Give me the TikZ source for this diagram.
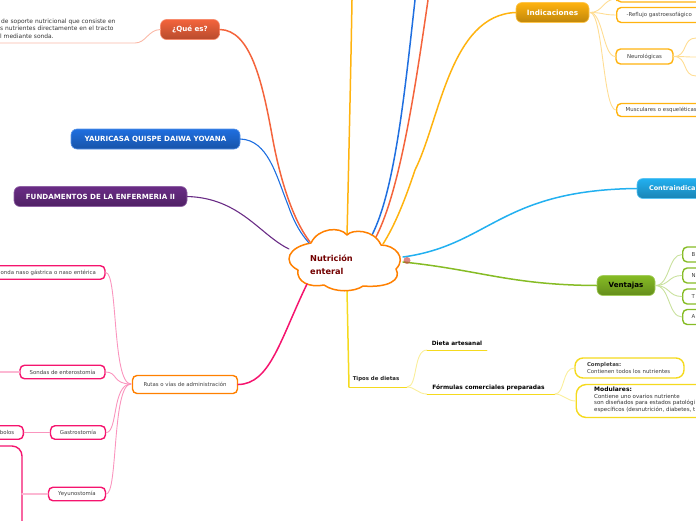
\documentclass[tikz,border=0pt]{standalone}
\usepackage{fontspec}
\setmainfont{DejaVu Sans}
\usetikzlibrary{positioning}
\definecolor{cOrange}{HTML}{FF8000}
\definecolor{cRed}{HTML}{F4643C}
\definecolor{cBlue}{HTML}{1F6FE0}
\definecolor{cPurple}{HTML}{6A2C86}
\definecolor{cPink}{HTML}{F5146E}
\definecolor{cGold}{HTML}{FFB30F}
\definecolor{cSky}{HTML}{22B0F0}
\definecolor{cGreen}{HTML}{86BC25}
\definecolor{cYellow}{HTML}{F5DA1E}
\tikzset{
  main/.style={rounded corners=6pt,minimum height=20pt,inner sep=0pt,font=\bfseries\fontsize{7.1}{8}\selectfont,text=white,draw=#1!75,line width=.6pt,top color=#1,bottom color=#1!75!black},
  sub/.style={rounded corners=4.5pt,draw=#1,line width=1.4pt,fill=white,minimum height=13.5pt,inner sep=0pt,text=black!75,font=\fontsize{5.4}{6.4}\selectfont},
  branch/.style={line width=1.5pt,draw=#1},
  twig/.style={line width=.9pt,draw=#1!45},
  line join=round,line cap=round
}
\begin{document}
\begin{tikzpicture}[x=1pt,y=-1pt,line join=round,line cap=round]
\useasboundingbox (0,0) rectangle (696,520);
% free ends
\coordinate (topa) at (352,0);
\coordinate (topb) at (415,0);
\coordinate (topc) at (428,0);
% branches
\draw[branch=cGold] (347,236) .. controls (349,150) and (351,60) .. (topa);
\draw[branch=cBlue] (372,235) .. controls (395,190) and (405,90) .. (topb);
\draw[branch=cRed] (376,237) .. controls (400,190) and (415,90) .. (topc);
\draw[branch=cYellow] (347,290) -- (349,387);
% nodes
\node[main=cRed,minimum width=59pt] (quees) at (190,29.5) {¿Qué es?};
\node[main=cBlue,minimum width=169pt] (autor) at (155.5,139) {YAURICASA QUISPE DAIWA YOVANA};
\node[main=cPurple,minimum width=173pt] (curso) at (100.5,196.5) {FUNDAMENTOS DE LA ENFERMERIA II};
\node[main=cGold,minimum width=73pt,font=\bfseries\fontsize{7.3}{8}\selectfont] (indica) at (552.5,12.5) {Indicaciones};
\node[main=cSky,text width=110pt,align=left,font=\bfseries\fontsize{6.5}{8}\selectfont] (contra) at (692,188.5) {\hspace*{12pt}Contraindica};
\node[main=cGreen,minimum width=58pt,text=black] (venta) at (626,285.5) {Ventajas};
\node[sub=cOrange,minimum width=105pt,minimum height=18pt] (rutas) at (185,384.5) {Rutas o vías de administración};
\node[sub=cPink,text width=170pt,align=right] (naso) at (20,272.5) {onda naso gástrica o naso entérica\hspace*{9pt}};
\node[sub=cPink,minimum width=85pt] (entero) at (62.5,372) {Sondas de enterostomía};
\node[sub=cPink,minimum width=55pt] (gastro) at (78,432.5) {Gastrostomía};
\node[sub=cPink,minimum width=57pt] (yeyuno) at (77,494) {Yeyunostomía};
\node[sub=cPink,text width=60pt,align=right,anchor=east] (bolos) at (24,432.5) {bolos\hspace*{9pt}};
\draw[cPink,line width=1.4pt,rounded corners=10pt] (-5,446) -- (22,446) -- (22,525);
\node[sub=cGold,text width=86pt,align=left,minimum height=15pt,anchor=west] (reflujo) at (616,15) {\hspace*{10pt}-Reflujo gastroesofágico};
\node[sub=cGold,minimum width=57pt,minimum height=15pt] (neuro) at (644.5,56.5) {Neurológicas};
\node[sub=cGold,text width=86pt,align=left,minimum height=13pt,anchor=west] (muscu) at (616,110) {\hspace*{9pt}Musculares o esqueléticas};
\node[sub=cGold,minimum width=86pt,minimum height=6pt,anchor=west] (alto) at (616,-1) {};
\foreach \n/\y/\t in {ba/254.5/B,ne/275.5/N,to/296.5/T,ap/317/A}
  \node[sub=cGreen,text width=30pt,align=left,minimum height=15pt,anchor=west] (\n) at (682,\y) {\hspace*{9pt}\t};
\node[font=\bfseries\fontsize{5.4}{6}\selectfont,text=black!85] (tipos) at (376,379) {Tipos de dietas};
\node[font=\bfseries\fontsize{5.8}{7}\selectfont,text=black] (artesanal) at (457,343.5) {Dieta artesanal};
\node[font=\bfseries\fontsize{5.9}{7}\selectfont,text=black] (formulas) at (488.5,387.5) {Fórmulas comerciales preparadas};
\node[sub=cYellow,text width=85pt,inner xsep=12pt,minimum height=20pt,rounded corners=8pt,align=left] (completas) at (629.5,368) {\textbf{Completas:}\\Contienen todos los nutrientes};
\node[sub=cYellow,minimum width=130pt,minimum height=33pt,rounded corners=10pt,anchor=west] (modu) at (575.5,401) {};
\node[anchor=north west,inner sep=0pt,align=left,font=\fontsize{5.5}{6.6}\selectfont,text=black!80] (modutxt) at (594,387) {{\bfseries\fontsize{6}{7}\selectfont\textcolor{black}{Modulares:}}\\Contiene uno ovarios nutriente\\son diseñados para estados patológi\\específicos (desnutrición, diabetes, t};
\node[anchor=north west,inner sep=0pt,align=left,font=\fontsize{5.95}{7.4}\selectfont,text=black!80] (quetxt) at (0,18.5) {\hspace*{1pt}de soporte nutricional que consiste en\\s nutrientes directamente en el tracto\\l mediante sonda.};
% cloud
\draw[cOrange,line width=1.5pt,fill=white] (311,243) .. controls (318,228) and (340,226) .. (347,235)
  .. controls (352,229) and (374,229) .. (381,245)
  .. controls (395,245) and (407,258) .. (396,269)
  .. controls (402,280) and (388,288) .. (363,286)
  .. controls (355,292) and (335,293) .. (324,285)
  .. controls (310,288) and (296,282) .. (298,270)
  .. controls (282,262) and (288,247) .. (311,243) -- cycle;
\node[font=\bfseries\fontsize{8.2}{13}\selectfont,text=red!45!black,align=left] (nutri) at (331.5,264.5) {Nutrición\\enteral};
% connectors to the cloud
\draw[branch=cRed] (quees.east) .. controls (250,30) and (262,80) .. (272,135) .. controls (280,180) and (293,220) .. (310,242);
\draw[branch=cBlue,line width=1.1pt] (autor.east) .. controls (268,140) and (276,175) .. (288,205) .. controls (295,225) and (302,235) .. (309,243);
\draw[branch=cPurple,line width=1.1pt] (curso.east) .. controls (240,198) and (260,235) .. (289,249);
\draw[branch=cGold] (indica.west) .. controls (450,15) and (440,120) .. (415,170) .. controls (405,200) and (395,225) .. (383,244);
\draw[branch=cSky] (403,257) .. controls (490,245) and (500,190) .. (contra.west);
\draw[branch=cGreen] (403,262) .. controls (480,270) and (510,285) .. (venta.west);
\draw[branch=cPink] (rutas.east) .. controls (270,384) and (280,340) .. (307,284);
\node[circle,fill=red!55!gray,opacity=.6,minimum size=7pt,inner sep=0pt] (nota) at (407,260.5) {};
% twigs
\coordinate (rutasin) at (131,384);
\coordinate (ctlpink) at (118,0);
\foreach \n in {naso,entero,gastro,yeyuno}
  \draw[twig=cPink] (\n.east) .. controls (ctlpink |- \n.east) and (112,384) .. (rutasin);
\draw[twig=cPink] (gastro.west) -- (bolos.east);
\draw[twig=cPink,line width=1.6pt,draw=cPink!30] (yeyuno.west) -- (22,494);
\draw[twig=cPink,line width=1.6pt,draw=cPink!30] (entero.west) -- (0,372);
\draw[twig=cRed] (quees.west) .. controls (148,30) and (146,43) .. (135,43) -- (-5,43);
\coordinate (indout) at (590,12.5);
\coordinate (ctlgold) at (603,0);
\foreach \n in {alto,reflujo,neuro,muscu}
  \draw[twig=cGold] (indout) .. controls (603,12.5) and (ctlgold |- \n.west) .. (\n.west);
\coordinate (neuroa) at (696,38);
\coordinate (neurob) at (696,57);
\coordinate (neuroc) at (696,76);
\coordinate (ctlneuro) at (682,0);
\foreach \n in {neuroa,neurob,neuroc}
  \draw[twig=cGold] (neuro.east) .. controls (688,56.5) and (ctlneuro |- \n) .. (\n);
\coordinate (ctlgreen) at (668,0);
\foreach \n in {ba,ne,to,ap}
  \draw[twig=cGreen] (venta.east) .. controls (670,285.5) and (ctlgreen |- \n.west) .. (\n.west);
\coordinate (tiposend) at (407,387);
\draw[branch=cYellow,line width=.9pt] (349,387) -- (tiposend);
\coordinate (artesa) at (427,350);
\coordinate (artesb) at (487,350);
\coordinate (formua) at (427,394);
\coordinate (formub) at (555,394);
\draw[twig=cYellow] (tiposend) .. controls (418,387) and (413,350) .. (artesa);
\draw[twig=cYellow] (tiposend) .. controls (415,387) and (418,394) .. (formua);
\draw[cYellow,line width=.9pt] (artesa) -- (artesb);
\draw[cYellow,line width=.9pt] (formua) -- (formub);
\draw[twig=cYellow] (formub) .. controls (565,394) and (562,368) .. (completas.west);
\draw[twig=cYellow] (formub) .. controls (563,394) and (567,401) .. (modu.west);
\end{tikzpicture}
\end{document}
